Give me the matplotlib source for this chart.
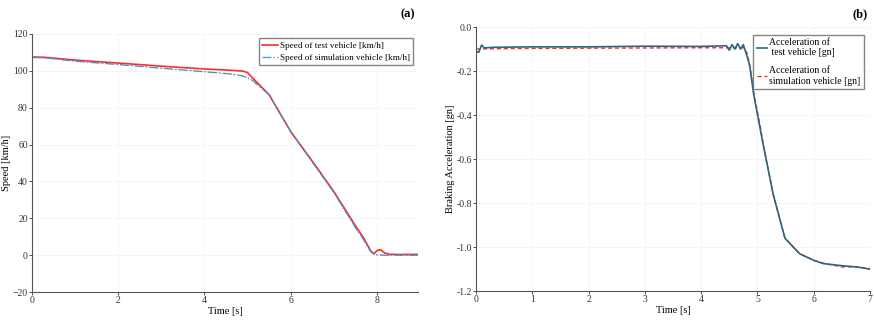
import matplotlib
matplotlib.use("Agg")
import matplotlib.pyplot as plt

plt.rcParams['font.family'] = ['Liberation Serif', 'DejaVu Serif']

# (a) speed curves
t_speed_test = [0, 0.3, 1, 2, 3, 4, 4.6, 4.9, 5.0, 5.1, 5.5, 6, 6.5, 7, 7.5, 7.7, 7.85, 7.93, 8.0, 8.08, 8.18, 8.3, 8.6, 9.0]
speed_test = [107.5, 107.3, 105.8, 104.2, 102.5, 101, 100.3, 99.8, 99, 96.5, 87, 67, 51, 34.5, 16, 9, 2.5, 0.8, 2.5, 3, 1.2, 0.5, 0.4, 0.5]
t_speed_sim = [0, 0.3, 1, 2, 3, 4, 4.6, 4.9, 5.1, 5.5, 6, 6.5, 7, 7.5, 7.7, 7.85, 7.95, 8.2, 9.0]
speed_sim = [107.2, 107, 105.2, 103.4, 101.4, 99.5, 98.3, 97.2, 95, 87, 67, 50.5, 34, 15, 8, 2, 0.2, 0, 0]

# (b) braking acceleration
t_acc_test = [0, 0.05, 0.1, 0.15, 0.3, 1, 2, 3, 4, 4.45, 4.5, 4.55, 4.6, 4.65, 4.7, 4.75, 4.8, 4.86, 4.93, 5.01, 5.1, 5.28, 5.49, 5.75, 6.0, 6.17, 6.52, 6.76, 7.0]
acc_test = [-0.11, -0.115, -0.082, -0.095, -0.092, -0.09, -0.09, -0.087, -0.088, -0.085, -0.105, -0.08, -0.1, -0.075, -0.1, -0.08, -0.12, -0.17, -0.30, -0.41, -0.53, -0.76, -0.96, -1.03, -1.06, -1.075, -1.085, -1.09, -1.10]
t_acc_sim = [0, 0.5, 1, 2, 3, 4, 4.6, 4.75, 4.82, 4.88, 4.95, 5.05, 5.1, 5.28, 5.49, 5.75, 6.0, 6.2, 6.5, 6.8, 7.0]
acc_sim = [-0.1, -0.098, -0.097, -0.096, -0.095, -0.094, -0.094, -0.094, -0.12, -0.2, -0.32, -0.45, -0.53, -0.76, -0.96, -1.03, -1.06, -1.075, -1.09, -1.09, -1.10]

red = '#ff2a2a'
blue = '#4ea7d6'
teal = '#2a6680'


def style_axes(ax):
    for side in ['top', 'right']:
        ax.spines[side].set_visible(False)
    for side in ['left', 'bottom']:
        ax.spines[side].set_color('#555555')
        ax.spines[side].set_linewidth(0.8)
    ax.tick_params(labelsize=7, length=2, width=0.6, colors='#333333', pad=1)
    ax.grid(True, color='#f4f4f4', linewidth=0.6)
    ax.set_axisbelow(True)


fig = plt.figure(figsize=(8.74, 3.26), dpi=100)

ax1 = fig.add_axes([0.0366, 0.104, 0.4416, 0.792])
ax1.plot(t_speed_test, speed_test, color=red, lw=1.2, label='Speed of test vehicle [km/h]')
ax1.plot(t_speed_sim, speed_sim, color=blue, lw=1.0, ls='-.', label='Speed of simulation vehicle [km/h]')
ax1.plot(t_speed_sim, speed_sim, color='#222222', lw=0.4, ls=(0, (1, 3)))
ax1.set_xlim(0, 8.95)
ax1.set_ylim(-20, 120)
ax1.set_xticks([0, 2, 4, 6, 8])
ax1.set_yticks(range(-20, 121, 20))
ax1.set_xlabel('Time [s]', fontsize=7.5, labelpad=1)
ax1.set_ylabel('Speed [km/h]', fontsize=7.5, labelpad=1)
style_axes(ax1)
ax1.legend(loc='upper right', fontsize=6.6, frameon=True, fancybox=False, edgecolor='#666666',
           handlelength=1.8, handletextpad=0.2, borderpad=0.35, labelspacing=0.35,
           bbox_to_anchor=(1.0, 1.0))
fig.text(0.475, 0.955, '(a)', fontsize=9, fontweight='bold', ha='right', va='center')

ax2 = fig.add_axes([0.5446, 0.107, 0.4508, 0.81])
ax2.plot(t_acc_sim, acc_sim, color=red, lw=1.0, ls=(0, (3, 2)), label='Acceleration of\nsimulation vehicle [gn]')
ax2.plot(t_acc_test, acc_test, color=teal, lw=1.2, label='Acceleration of\n test vehicle [gn]')
ax2.set_xlim(0, 7)
ax2.set_ylim(-1.2, 0.0)
ax2.set_xticks(range(0, 8))
ax2.set_yticks([-1.2, -1.0, -0.8, -0.6, -0.4, -0.2, 0.0])
ax2.set_yticklabels(['-1.2', '-1.0', '-0.8', '-0.6', '-0.4', '-0.2', '0.0'])
ax2.set_xlabel('Time [s]', fontsize=7.5, labelpad=1)
ax2.set_ylabel('Braking Acceleration [gn]', fontsize=7.5, labelpad=1)
style_axes(ax2)
h, l = ax2.get_legend_handles_labels()
ax2.legend(h[::-1], l[::-1], loc='upper right', fontsize=7, frameon=True, fancybox=False,
           edgecolor='#666666', handlelength=1.1, handletextpad=0.2, borderpad=0.35,
           labelspacing=0.9, bbox_to_anchor=(0.997, 0.99))
fig.text(0.993, 0.955, '(b)', fontsize=9, fontweight='bold', ha='right', va='center')

fig.savefig('out.png', dpi=100)
